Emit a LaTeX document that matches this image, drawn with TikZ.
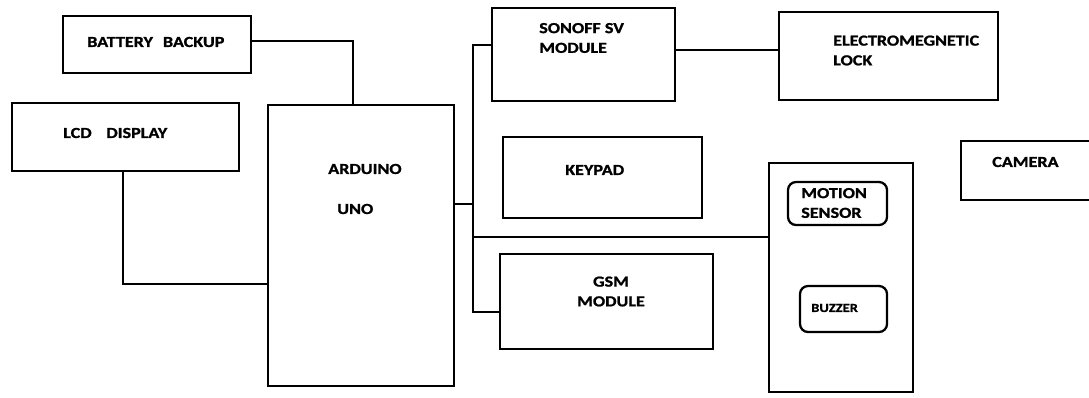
\documentclass[tikz,border=0pt]{standalone}
\usepackage{fontspec}
\newfontfamily\lblfont{Carlito}[FakeStretch=1.18, BoldFeatures={FakeBold=1.2}]
\newcommand\blkat[6]{\node[#1, minimum width={(#4-#2)*0.75pt}, minimum height={(#5-#3)*0.75pt}] (#6) at ({(#2+#4)/2},{(#3+#5)/2}) {};}
\tikzset{
  blk/.style={draw=black, line width=2pt, inner sep=0pt, outer sep=0pt, rectangle},
  rblk/.style={draw=black, line width=1.7pt, inner sep=0pt, outer sep=0pt, rectangle, rounded corners=6pt},
  wire/.style={draw=black, line width=1.8pt, line join=miter},
  lbl/.style={inner sep=0pt, anchor=west, align=left, font={\fontsize{11.5pt}{14.8pt}\lblfont\bfseries}},
  slbl/.style={inner sep=0pt, anchor=west, font={\fontsize{9.2pt}{11pt}\lblfont\bfseries}}
}
\begin{document}
\begin{tikzpicture}[x=0.75pt, y=-0.75pt]
\useasboundingbox (0,0) rectangle (1089,397);
\clip (0,0) rectangle (1089,397);
\fill[white] (0,0) rectangle (1089,397);
% blocks
\blkat{blk}{63}{16}{251}{73}{bat}
\blkat{blk}{12}{103}{239}{171}{lcd}
\blkat{blk}{268}{105}{454}{386}{ard}
\blkat{blk}{492}{8}{675}{101}{son}
\blkat{blk}{779}{12}{998}{100}{em}
\blkat{blk}{503}{137}{702}{218}{key}
\blkat{blk}{500}{254}{713}{349}{gsm}
\blkat{blk}{769}{163}{913}{392}{mot}
\blkat{rblk}{788}{182}{887}{225}{ms}
\blkat{rblk}{800}{286}{887}{332}{buz}
\blkat{blk}{961}{141}{1104}{200}{cam}
% labels
\node[lbl] (tbat) at (87,42) {BATTERY\hspace{7.5pt}BACKUP};
\node[lbl] (tlcd) at (63,133) {LCD\hspace{11pt}DISPLAY};
\node[lbl] (tard) at (328,169) {ARDUINO};
\node[lbl] (tuno) at (337,209) {UNO};
\node[lbl] (tson) at (539,38) {SONOFF SV\\MODULE};
\node[lbl] (tem) at (833,50.5) {ELECTROMEGNETIC\\LOCK};
\node[lbl] (tkey) at (565,170) {KEYPAD};
\node[lbl, anchor=center, align=center] (tgsm) at (611,291.5) {GSM\\MODULE};
\node[lbl] (tms) at (801,203) {MOTION\\SENSOR};
\node[slbl] (tbuz) at (811,308) {BUZZER};
\node[lbl] (tcam) at (992,162) {CAMERA};
% junction coordinates
\coordinate (bj) at (353,41);
\coordinate (lj) at (123,284);
\coordinate (bt) at (473,45);
\coordinate (bb) at (473,312);
\coordinate (ab) at (473,204);
\coordinate (mb) at (473,237);
\coordinate (se) at (720,50);
% connectors
\draw[wire] (bat.east |- bj) -- (bj) -- (bj |- ard.north);
\draw[wire] (lj |- lcd.south) -- (lj) -- (lj -| ard.west);
\draw[wire] (son.west |- bt) -- (bt) -- (bb) -- (bb -| gsm.west);
\draw[wire] (ab -| ard.east) -- (ab);
\draw[wire] (mb) -- (mb -| mot.west);
\draw[wire] (son.east |- se) -- (se -| em.west);
\end{tikzpicture}
\end{document}
